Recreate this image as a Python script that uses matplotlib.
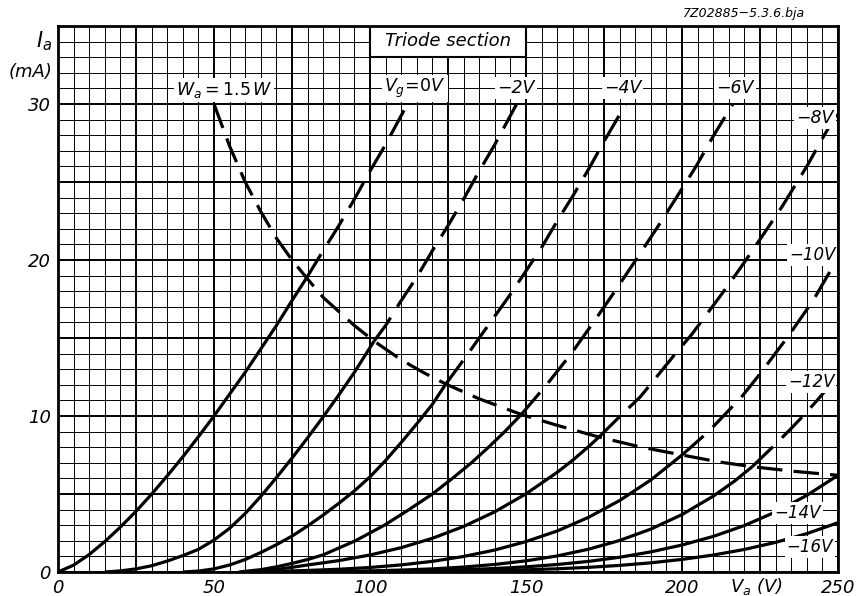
import matplotlib
matplotlib.use("Agg")
from matplotlib import pyplot as plt
from matplotlib.patches import Rectangle
import numpy as np

plt.rcParams["mathtext.fontset"] = "dejavusans"
plt.rcParams["mathtext.default"] = "it"

# anode voltage Va (V) and anode current Ia (mA), one pair of lists per grid voltage
va_0 = [0, 5, 10, 15, 20, 25, 30, 35, 40, 45, 50, 55, 60, 65, 70, 75, 79.5, 85, 90, 95, 100, 105, 112]
ia_0 = [0, 0.44, 1.12, 1.95, 2.88, 3.89, 4.99, 6.16, 7.38, 8.67, 10.0, 11.4, 12.8, 14.3, 15.8, 17.4, 18.8,
        20.6, 22.2, 23.9, 25.7, 27.4, 30.0]

va_2 = [15, 20, 25, 30, 35, 40, 45, 50, 55, 60, 65, 70, 75, 80, 85, 90, 95, 101.3, 105, 110, 115, 120, 125,
        130, 135, 140, 147]
ia_2 = [0, 0.07, 0.2, 0.4, 0.7, 1.05, 1.45, 2.05, 2.8, 3.75, 4.85, 6.05, 7.3, 8.6, 9.95, 11.35, 12.8,
        14.8, 15.8, 17.4, 18.9, 20.6, 22.2, 23.9, 25.7, 27.4, 30.0]

va_4 = [40, 45, 50, 55, 60, 65, 70, 75, 80, 85, 90, 95, 100, 105, 110, 115, 120, 124.3, 130, 135, 140, 145,
        150, 155, 160, 165, 170, 175, 182]
ia_4 = [0, 0.06, 0.2, 0.45, 0.8, 1.25, 1.75, 2.3, 2.95, 3.65, 4.4, 5.2, 6.1, 7.15, 8.3, 9.5, 10.75, 12.05,
        13.6, 15.0, 16.4, 17.8, 19.3, 20.8, 22.5, 24.1, 25.8, 27.6, 30.0]

va_6 = [58, 65, 70, 75, 80, 85, 95.3, 104.6, 112.5, 120, 126.4, 132.5, 138, 143.2, 148.5, 156.6, 164.5,
        171.6, 178.5, 185.2, 191.8, 198.2, 204.5, 210.2, 216.3]
ia_6 = [0, 0.15, 0.33, 0.55, 0.8, 1.1, 2, 3, 4, 5, 6, 7, 8, 9, 10.1, 12, 14, 16, 18, 20, 22, 24, 26, 28, 30]

va_8 = [60, 65, 70, 75, 80, 84, 90, 100, 110, 120, 130, 140, 150, 160, 165, 170, 173.4, 180.2, 186.5, 189.8,
        197.9, 203, 206, 213.4, 217, 220.5, 227.3, 232, 240, 245.6, 250]
ia_8 = [0, 0.06, 0.16, 0.3, 0.45, 0.56, 0.73, 1.09, 1.56, 2.16, 2.92, 3.86, 5.01, 6.39, 7.17, 8.03, 8.65, 10,
        11.2, 12, 14, 15.2, 16, 18, 19, 20, 22, 23.4, 26, 28, 29.5]

va_10 = [65, 70, 80, 90, 100, 110, 120, 130, 140, 150, 160, 170, 180, 190, 200, 208.5, 219, 225, 234, 242,
         249, 250]
ia_10 = [0, 0.04, 0.1, 0.177, 0.29, 0.455, 0.683, 0.995, 1.41, 1.95, 2.63, 3.5, 4.58, 5.9, 7.5, 9, 11.2, 12.7,
         15.1, 17.4, 19.8, 20.2]

va_12 = [80, 90, 100, 110, 120, 130, 140, 150, 160, 170, 180, 190, 200, 210, 217, 222.5, 229.5, 234.5, 238.8,
         243.3, 248, 250]
ia_12 = [0, 0.035, 0.071, 0.123, 0.2, 0.317, 0.484, 0.716, 1.03, 1.46, 2.02, 2.75, 3.68, 4.86, 5.85, 6.75,
         8.1, 9.1, 10, 11, 12.1, 12.5]

va_14 = [90, 100, 110, 120, 130, 140, 150, 160, 170, 180, 190, 200, 210, 220, 230, 240, 250]
ia_14 = [0, 0.03, 0.056, 0.092, 0.146, 0.224, 0.332, 0.48, 0.68, 0.944, 1.29, 1.73, 2.28, 2.98, 3.85, 4.91,
         6.2]

va_16 = [100, 110, 120, 130, 140, 150, 160, 170, 180, 190, 200, 210, 220, 230, 240, 250]
ia_16 = [0, 0.021, 0.035, 0.058, 0.091, 0.139, 0.206, 0.298, 0.423, 0.589, 0.807, 1.087, 1.445, 1.9, 2.46,
         3.16]

# maximum anode dissipation Wa = 1.5 W
va_w = [50, 55, 60, 65, 70, 75, 79.5, 85, 90, 95, 101.3, 110, 117, 124.3, 135, 148.5, 160, 173.4, 187, 200,
        212, 222.5, 236, 250]
ia_w = [30.0, 27.3, 25.0, 23.1, 21.4, 20.0, 18.9, 17.6, 16.7, 15.8, 14.8, 13.6, 12.8, 12.05, 11.1, 10.1, 9.4,
        8.65, 8.0, 7.5, 7.05, 6.75, 6.45, 6.2]
wa_limit = 1500  # V * mA

curves = [(va_0, ia_0), (va_2, ia_2), (va_4, ia_4), (va_6, ia_6), (va_8, ia_8),
          (va_10, ia_10), (va_12, ia_12), (va_14, ia_14), (va_16, ia_16)]

x_ticks = [0, 50, 100, 150, 200, 250]
y_ticks = [0, 10, 20, 30]

fig = plt.figure(figsize=(8.61, 5.96), dpi=100)
ax = fig.add_axes([58 / 861, 24 / 596, 780 / 861, 546 / 596])
ax.set_xlim(0, 250)
ax.set_ylim(0, 35)

# graph paper
for v in np.arange(0, 251, 5):
    ax.axvline(v, color="k", lw=1.4 if v % 25 == 0 else 0.7, zorder=1)
for i in np.arange(0, 35.1, 1):
    ax.axhline(i, color="k", lw=1.4 if i % 5 == 0 else 0.7, zorder=1)

for s in ax.spines.values():
    s.set_linewidth(2)
    s.set_zorder(5)

dash = (0, (9, 4))
for va, ia in curves:
    va = np.array(va)
    ia = np.array(ia)
    solid = va * ia <= wa_limit * 1.04
    last = np.nonzero(solid)[0][-1]
    ax.plot(va[:last + 1], ia[:last + 1], color="k", lw=2.3, zorder=3, solid_capstyle="butt")
    if last < len(va) - 1:
        ax.plot(va[last:], ia[last:], color="k", lw=2.3, ls=dash, zorder=3)

ax.plot(va_w, ia_w, color="k", lw=2.3, ls=(0, (8, 3.5)), zorder=3)

# title box
ax.add_patch(Rectangle((100, 33), 50, 2, facecolor="white", edgecolor="k", lw=1.5, zorder=4))
ax.text(125, 34.05, "Triode section", ha="center", va="center", fontsize=13, style="italic", zorder=6)

box = dict(facecolor="white", edgecolor="none", pad=1.5)
labels = [
    (r"$W_a = 1.5\,W$", 53.2, 30.9, 12.5),
    (r"$V_g\!=\!0V$", 114.4, 31.0, 12.5),
    ("\u22122V", 146.8, 31.0, 12.5),
    ("\u22124V", 181, 31.0, 12.5),
    ("\u22126V", 217, 31.0, 12.5),
    ("\u22128V", 242.6, 29.1, 12.5),
    ("\u221210V", 241.7, 20.3, 12),
    ("\u221212V", 241.4, 12.2, 12),
    ("\u221214V", 237, 3.8, 12),
    ("\u221216V", 241, 1.6, 12),
]
for txt, x, y, fs in labels:
    ax.text(x, y, txt, ha="center", va="center", fontsize=fs, style="italic", bbox=box, zorder=6)

ax.set_xticks(x_ticks)
ax.set_xticklabels([str(t) for t in x_ticks], fontsize=13, style="italic")
ax.set_yticks(y_ticks)
ax.set_yticklabels([str(t) for t in y_ticks], fontsize=13, style="italic")
ax.tick_params(length=0, pad=5)

ax.text(-1.9, 34.0, r"$I_a$", ha="right", va="center", fontsize=15, clip_on=False)
ax.text(-1.9, 32.05, "(mA)", ha="right", va="center", fontsize=13, style="italic", clip_on=False)
ax.text(224, -0.96, r"$V_a$ (V)", ha="center", va="center", fontsize=13, style="italic", clip_on=False)
ax.text(220, 35.77, "7Z02885\u22125.3.6.bja", ha="center", va="center", fontsize=9, style="italic",
        clip_on=False)

fig.savefig("out.png", dpi=100)
